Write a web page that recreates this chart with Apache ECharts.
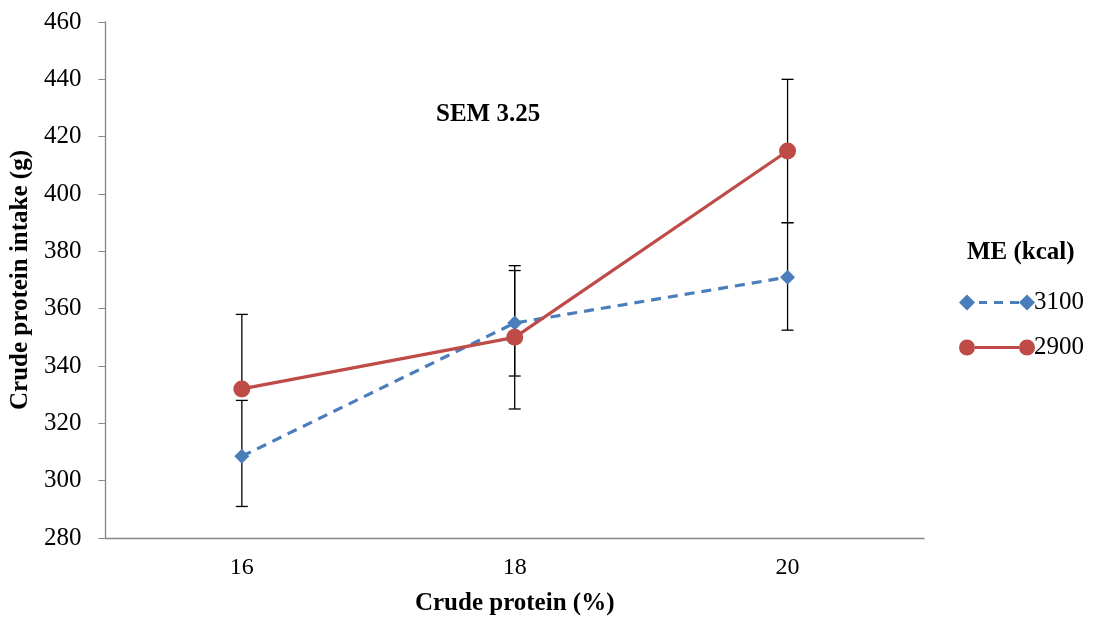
<!DOCTYPE html>
<html>
<head>
<meta charset="utf-8">
<script src="https://cdn.jsdelivr.net/npm/echarts@6/dist/echarts.min.js"></script>
<style>
  html, body { margin: 0; padding: 0; background: #fff; }
  #main { width: 1094px; height: 621px; }
</style>
</head>
<body>
<div id="main"></div>
<script>
// crude protein levels (%)
const categories = ['16', '18', '20']
const yTicks = { min: 280, max: 460, step: 20 }

// crude protein intake (g) by ME level
const me3100 = [308.5, 355, 371]
const me2900 = [332, 350, 415]

// error bar ends
const me3100Low = [291, 336.5, 352.5]
const me3100High = [328, 373.3, 390]
const me2900Low = [332, 325, 390]
const me2900High = [358, 375, 440]

const blue = '#4a7ebb'
const red = '#be4b48'
const serif = '"Liberation Serif", "Times New Roman", serif'

const myChart = echarts.init(document.getElementById('main'))

function errorBars(name, low, high) {
  return {
    name: name + '_err',
    type: 'custom',
    z: 1,
    silent: true,
    data: low.map((v, i) => [i, v, high[i]]),
    renderItem: function (params, api) {
      const lo = api.coord([api.value(0), api.value(1)])
      const hi = api.coord([api.value(0), api.value(2)])
      const cap = 6
      const style = { stroke: '#000', lineWidth: 1.3 }
      return {
        type: 'group',
        children: [
          { type: 'line', shape: { x1: lo[0], y1: lo[1], x2: hi[0], y2: hi[1] }, style: style },
          { type: 'line', shape: { x1: lo[0] - cap, y1: lo[1], x2: lo[0] + cap, y2: lo[1] }, style: style },
          { type: 'line', shape: { x1: hi[0] - cap, y1: hi[1], x2: hi[0] + cap, y2: hi[1] }, style: style }
        ]
      }
    }
  }
}

// legend icons in Excel style: marker - line - marker
const diamondIcon = 'path://M0 8L8 0L16 8L8 16Z' +
  'M20 6.5h8v3h-8Z M35 6.5h9v3h-9Z M51 6.5h9v3h-9Z' +
  'M60 8L68 0L76 8L68 16Z'
const circleIcon = 'path://M0 8A8 8 0 1 0 16 8A8 8 0 1 0 0 8Z' +
  'M16 6.5h44v3h-44Z' +
  'M60 8A8 8 0 1 0 76 8A8 8 0 1 0 60 8Z'

const option = {
  backgroundColor: '#fff',
  animation: false,
  grid: { left: 104, right: 170, top: 22, bottom: 81 },
  textStyle: { fontFamily: serif, color: '#000' },
  legend: {
    orient: 'vertical',
    left: 954,
    top: 285,
    itemWidth: 76,
    itemHeight: 16,
    itemGap: 20,
    textStyle: { fontFamily: serif, fontSize: 25, color: '#000', padding: [0, 0, 0, -6] },
    data: [
      { name: '3100', icon: diamondIcon },
      { name: '2900', icon: circleIcon }
    ]
  },
  graphic: [
    {
      type: 'text', left: 967, top: 240,
      style: { text: 'ME (kcal)', font: 'bold 25px ' + serif, fill: '#000' }
    },
    {
      type: 'text', left: 436, top: 102,
      style: { text: 'SEM 3.25', font: 'bold 25px ' + serif, fill: '#000' }
    }
  ],
  xAxis: {
    type: 'category',
    data: categories,
    boundaryGap: true,
    axisLine: { lineStyle: { color: '#868686', width: 1.3 } },
    axisTick: { show: false },
    axisLabel: { fontFamily: serif, fontSize: 24, color: '#000', margin: 18 },
    name: 'Crude protein (%)',
    nameLocation: 'middle',
    nameGap: 53,
    nameTextStyle: { fontFamily: serif, fontSize: 25, fontWeight: 'bold', color: '#000' }
  },
  yAxis: {
    type: 'value',
    min: yTicks.min,
    max: yTicks.max,
    interval: yTicks.step,
    splitLine: { show: false },
    axisLine: { show: true, lineStyle: { color: '#868686', width: 1.3 } },
    axisTick: { show: true, length: 7, lineStyle: { color: '#868686' } },
    axisLabel: { fontFamily: serif, fontSize: 25, color: '#000', margin: 24 },
    name: 'Crude protein intake (g)',
    nameLocation: 'middle',
    nameGap: 70,
    nameTextStyle: { fontFamily: serif, fontSize: 25, fontWeight: 'bold', color: '#000' }
  },
  series: [
    errorBars('3100', me3100Low, me3100High),
    errorBars('2900', me2900Low, me2900High),
    {
      name: '3100',
      type: 'line',
      z: 3,
      data: me3100,
      symbol: 'diamond',
      symbolSize: 15,
      itemStyle: { color: blue },
      lineStyle: { color: blue, width: 3.2, type: [10, 7] }
    },
    {
      name: '2900',
      type: 'line',
      z: 3,
      data: me2900,
      symbol: 'circle',
      symbolSize: 17,
      itemStyle: { color: red },
      lineStyle: { color: red, width: 3.2 }
    }
  ]
}

option && myChart.setOption(option)
</script>
</body>
</html>
